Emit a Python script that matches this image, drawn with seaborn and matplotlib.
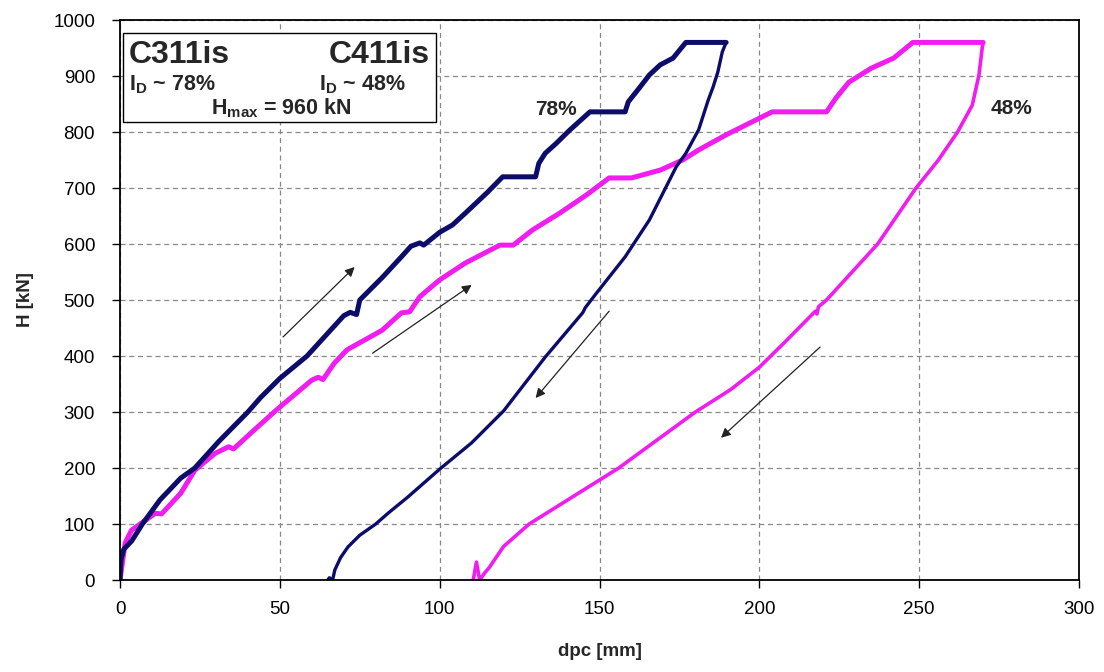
import numpy as np
import pandas as pd
import matplotlib
matplotlib.use("Agg")
import matplotlib.pyplot as plt
import seaborn as sns

# ---- data ----
# C311is (I_D ~ 78%) loading branch
c311_load_x = [0, 0.3, 1.2, 3.7, 7, 12.5, 19, 23.4, 31, 40, 44, 50, 58.5, 66, 70, 72, 74, 75, 82,
               88, 91, 93.8, 95, 100, 104, 108, 114.7, 119.7, 130, 131, 133, 136.5, 140.6,
               147, 158, 159, 162.5, 165.6, 169, 173, 177, 189.6]
c311_load_y = [0, 36, 55, 70, 100, 143, 182, 200, 248, 300, 326, 360, 400, 447, 472, 478, 474, 500, 540,
               577, 596, 602, 598, 621, 634, 655, 691, 720, 720, 744, 762, 780, 803,
               836, 836, 854, 879, 902, 920, 932, 960, 960]
# C311is unloading branch
c311_unl_x = [189.6, 188.4, 187, 185.5, 184, 181, 177, 174, 165.6, 158, 149, 145.5, 145, 144.7,
              133, 120, 110, 100, 90, 84, 80, 75, 71.3, 69, 67.2, 66.5, 65.5, 65]
c311_unl_y = [960, 943, 907, 880, 857, 804, 762, 738, 643, 577, 512, 486, 480, 477,
              398, 302, 245, 198, 148, 120, 100, 80, 59, 40, 18, 0, 4, 0]
# C411is (I_D ~ 48%) loading branch
c411_load_x = [0, 1.6, 3.6, 11, 13, 19, 23.4, 29.7, 34, 35.5, 42, 49, 60, 62, 63.5, 67, 71, 82,
               88, 90.6, 93.8, 100, 108, 118.8, 123, 129, 137.5, 146, 153, 160, 169, 176,
               181, 189.6, 204, 221, 224, 228, 235, 242, 248, 270]
c411_load_y = [0, 66, 89, 119, 118, 155, 196, 226, 238, 234, 268, 304, 357, 362, 358, 387, 411, 446,
               477, 479, 506, 536, 566, 598, 598, 625, 655, 688, 718, 718, 732, 750,
               768, 795, 836, 836, 861, 889, 914, 932, 960, 960]
# C411is unloading branch
c411_unl_x = [270, 269.7, 268.7, 266.6, 262, 256, 249, 243, 237, 229, 221, 218.5, 218, 217.5,
              208, 200, 191, 180, 168, 156, 142, 128, 120, 115.6, 114, 112.5, 111.5, 110.5]
c411_unl_y = [960, 950, 902, 848, 800, 750, 700, 650, 600, 550, 500, 488, 475, 480,
              425, 380, 340, 300, 250, 200, 150, 100, 60, 23, 12, 0, 32, 0]

# arrows: (x_tail, y_tail, x_head, y_head)
arrow_tail_x = [51, 79, 153, 219]
arrow_tail_y = [434, 405, 480, 416]
arrow_head_x = [73.4, 110, 130, 188]
arrow_head_y = [559, 527, 325, 254]

x_ticks = [0, 50, 100, 150, 200, 250, 300]
y_ticks = [0, 100, 200, 300, 400, 500, 600, 700, 800, 900, 1000]

NAVY = "#0c0c6a"
MAGENTA = "#f01cf0"

def frame(x, y, name):
    return pd.DataFrame({"dpc": x, "H": y, "seg": name})

sns.set_theme(style="white")
plt.rcParams["font.family"] = ["Liberation Sans", "DejaVu Sans"]

fig = plt.figure(figsize=(11.04, 6.72), dpi=100)
ax = fig.add_axes([0.1087, 0.1369, 0.8687, 0.8333])

segments = [
    (frame(c411_load_x, c411_load_y, "c411_load"), MAGENTA, 3.6),
    (frame(c411_unl_x, c411_unl_y, "c411_unl"), MAGENTA, 2.6),
    (frame(c311_load_x, c311_load_y, "c311_load"), NAVY, 3.6),
    (frame(c311_unl_x, c311_unl_y, "c311_unl"), NAVY, 2.4),
]
for df, col, lw in segments:
    sns.lineplot(data=df, x="dpc", y="H", sort=False, estimator=None,
                 color=col, lw=lw, ax=ax, solid_joinstyle="round", solid_capstyle="round")

for xt, yt, xh, yh in zip(arrow_tail_x, arrow_tail_y, arrow_head_x, arrow_head_y):
    ax.annotate("", xy=(xh, yh), xytext=(xt, yt),
                arrowprops=dict(arrowstyle="-|>", color="#222222", lw=0.9,
                                mutation_scale=14, shrinkA=0, shrinkB=0))

ax.set_xlim(0, 300)
ax.set_ylim(0, 1000)
ax.set_xticks(x_ticks)
ax.set_yticks(y_ticks)
ax.tick_params(axis="both", labelsize=13.5, length=6, width=1, direction="out",
               colors="black", bottom=True, left=True)
ax.tick_params(axis="y", pad=12)
ax.tick_params(axis="x", pad=9)
ax.grid(True, color="#888888", linestyle=(0, (4, 3)), linewidth=0.9)
for s in ax.spines.values():
    s.set_color("black")
    s.set_linewidth(1.3)

ax.set_xlabel("dpc [mm]", fontsize=13.5, fontweight="bold", labelpad=18)
ax.set_ylabel("H [kN]", fontsize=13.5, fontweight="bold", labelpad=14)

ax.text(136.5, 840, "78%", fontsize=15, fontweight="bold", ha="center", va="center")
ax.text(279, 842, "48%", fontsize=15, fontweight="bold", ha="center", va="center")

# info box
box = plt.Rectangle((0.003, 0.818), 0.327, 0.159, transform=ax.transAxes,
                    facecolor="white", edgecolor="black", lw=1.0, zorder=5)
ax.add_patch(box)
ax.text(0.009, 0.938, "C311is", transform=ax.transAxes, fontsize=23, fontweight="bold",
        ha="left", va="center", zorder=6)
ax.text(0.323, 0.938, "C411is", transform=ax.transAxes, fontsize=23, fontweight="bold",
        ha="right", va="center", zorder=6)
ax.text(0.009, 0.884, r"I$_\mathregular{D}$ ~ 78%", transform=ax.transAxes, fontsize=15.5,
        fontweight="bold", ha="left", va="center", zorder=6)
ax.text(0.208, 0.884, r"I$_\mathregular{D}$ ~ 48%", transform=ax.transAxes, fontsize=15.5,
        fontweight="bold", ha="left", va="center", zorder=6)
ax.text(0.168, 0.842, r"H$_\mathregular{max}$ = 960 kN", transform=ax.transAxes, fontsize=15.5,
        fontweight="bold", ha="center", va="center", zorder=6)

fig.savefig("out.png", dpi=100)
